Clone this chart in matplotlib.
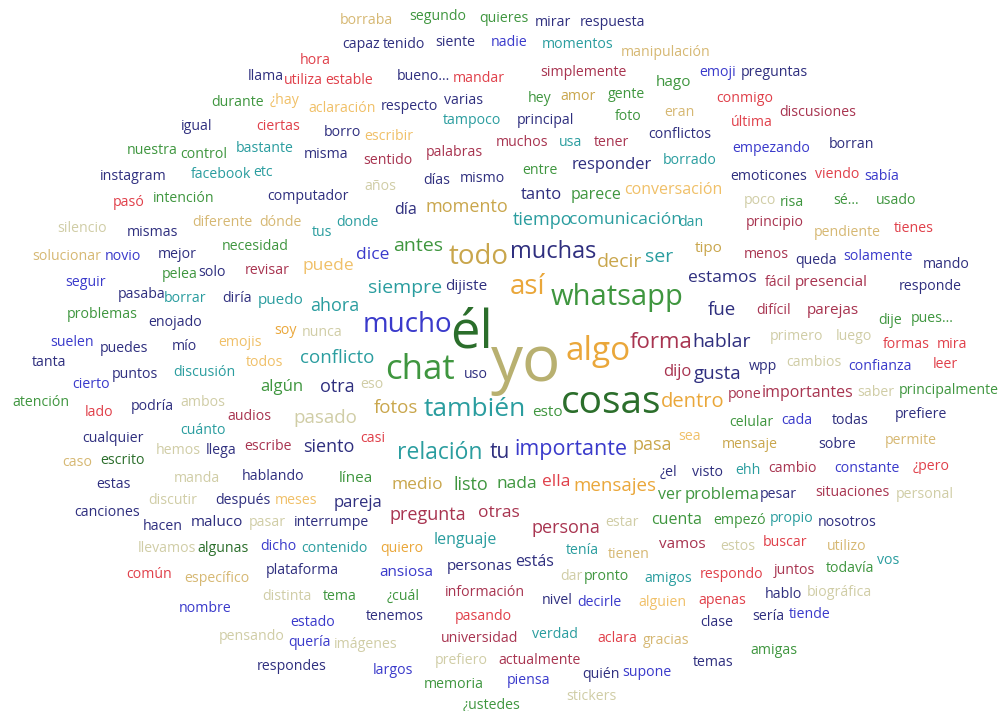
import matplotlib
matplotlib.use("Agg")
import matplotlib.pyplot as plt

# word cloud data: words and their size weight (points)
WORDS = [
    "yo", "él", "cosas", "chat", "algo", "whatsapp", "así", "todo", "mucho", "también",
    "muchas", "relación", "importante", "forma", "tu", "dentro", "siempre", "antes", "decir", "ser",
    "conflicto", "fotos", "pasado", "mensajes", "fue", "gusta", "hablar", "momento", "tiempo", "ahora",
    "pregunta", "persona", "listo", "siento", "otra", "pasa", "comunicación", "estamos", "dice", "puede",
    "medio", "nada", "ella", "otras", "tanto", "algún", "responder", "dijo", "parece", "conversación",
    "problema", "pareja", "cuenta", "lenguaje", "estás", "ver", "día", "importantes", "hago", "tipo",
    "dijiste", "puedo", "presencial", "parejas", "esto", "línea", "maluco", "vamos", "ansiosa", "personas",
]
FREQ = [
    46, 38, 28, 25, 24, 21, 20, 20, 20, 19,
    17, 16.5, 15.5, 16, 15, 14.5, 14, 14, 14, 14,
    13.5, 13.5, 13.5, 13.5, 13.5, 13.5, 14, 13, 13, 13,
    13, 13, 13, 13, 13, 13, 12.5, 12.5, 12.5, 12.5,
    12.5, 12.5, 12.5, 12.5, 12, 12, 12, 12, 11.5, 11.5,
    12, 12, 11.5, 11.5, 11.5, 11.5, 11.5, 11.5, 11, 11,
    11, 11, 11, 11, 11, 11, 11, 11, 11, 11,
]
# remaining words of the cloud share a small weight
SMALL_WORDS = [
    "borraba", "segundo", "quieres", "mirar", "respuesta", "capaz", "tenido", "siente", "nadie",
    "momentos", "manipulación", "hora", "llama", "utiliza", "estable", "bueno...", "mandar",
    "simplemente", "emoji", "preguntas", "durante", "¿hay", "aclaración", "respecto", "varias",
    "hey", "amor", "gente", "conmigo", "eran", "discusiones", "igual", "ciertas", "tampoco",
    "principal", "foto", "última", "nuestra", "control", "bastante", "borro", "escribir", "misma",
    "sentido", "palabras", "muchos", "usa", "tener", "conflictos", "empezando", "borran",
    "instagram", "facebook", "etc", "computador", "años", "días", "mismo", "entre", "borrado",
    "emoticones", "viendo", "sabía", "pasó", "intención", "poco", "risa", "sé...", "usado",
    "silencio", "mismas", "diferente", "dónde", "tus", "donde", "dan", "principio", "pendiente",
    "tienes", "necesidad", "menos", "solucionar", "novio", "mejor", "revisar", "pelea", "solo",
    "queda", "solamente", "mando", "seguir", "fácil", "responde", "pasaba", "borrar", "diría",
    "difícil", "problemas", "enojado", "dije", "pues...", "soy", "nunca", "primero", "luego",
    "suelen", "emojis", "formas", "mira", "puedes", "mío", "tanta", "todos", "cambios",
    "confianza", "leer", "wpp", "uso", "puntos", "discusión", "cierto", "eso", "saber",
    "principalmente", "pone", "atención", "podría", "ambos", "lado", "audios", "celular", "cada",
    "todas", "prefiere", "cualquier", "cuánto", "casi", "sea", "mensaje", "sobre", "permite",
    "escribe", "hemos", "llega", "caso", "escrito", "¿el", "visto", "ehh", "cambio", "constante",
    "¿pero", "hablando", "manda", "estas", "pesar", "situaciones", "personal", "discutir",
    "después", "meses", "canciones", "hacen", "pasar", "interrumpe", "estar", "empezó", "propio",
    "nosotros", "llevamos", "algunas", "dicho", "contenido", "quiero", "tenía", "tienen", "estos",
    "buscar", "utilizo", "común", "específico", "plataforma", "dar", "pronto", "amigos",
    "respondo", "juntos", "todavía", "vos", "información", "distinta", "tema", "¿cuál", "nivel",
    "decirle", "alguien", "apenas", "hablo", "biográfica", "nombre", "estado", "tenemos",
    "pasando", "clase", "sería", "tiende", "pensando", "quería", "imágenes", "universidad",
    "verdad", "aclara", "gracias", "amigas", "respondes", "largos", "prefiero", "actualmente",
    "temas", "memoria", "piensa", "quién", "supone", "stickers", "¿ustedes",
]
SMALL_FREQ = 10.2

PALETTE = {
    "N": "#2f2f7f", "B": "#3a3acb", "G": "#3f963f", "D": "#2b6e2b", "R": "#e0404a",
    "M": "#a83450", "O": "#eaa73a", "Y": "#c9a64c", "T": "#2a9d9f", "K": "#d0cda6",
    "W": "#d6b873", "L": "#f0c068", "V": "#b8b070",
}

# layout of the cloud: pixel centre (x, y from top) and colour key
LAYOUT = {
    "borraba": (366, 21, "W"), "segundo": (438, 17, "G"), "quieres": (504, 18, "G"),
    "mirar": (553, 22, "N"), "respuesta": (613, 22, "N"), "capaz": (361, 45, "N"),
    "tenido": (404, 45, "N"), "siente": (455, 43, "N"), "nadie": (509, 43, "B"),
    "momentos": (578, 45, "T"), "manipulación": (666, 52, "W"), "hora": (315, 61, "R"),
    "llama": (266, 76, "N"), "utiliza": (303, 80, "R"), "estable": (349, 80, "R"),
    "bueno...": (423, 77, "N"), "mandar": (479, 79, "R"), "simplemente": (583, 72, "M"),
    "hago": (674, 82, "G"), "emoji": (718, 73, "B"), "preguntas": (774, 72, "N"),
    "durante": (238, 103, "G"), "¿hay": (285, 101, "L"), "aclaración": (342, 108, "L"),
    "respecto": (409, 106, "N"), "varias": (464, 100, "N"), "hey": (540, 98, "G"),
    "amor": (578, 97, "Y"), "gente": (626, 95, "G"), "conmigo": (745, 98, "R"),
    "eran": (679, 112, "W"), "discusiones": (818, 112, "M"), "igual": (197, 127, "N"),
    "ciertas": (278, 127, "R"), "tampoco": (472, 121, "T"), "principal": (545, 120, "N"),
    "foto": (628, 117, "G"), "última": (752, 122, "R"), "nuestra": (152, 150, "G"),
    "control": (204, 155, "G"), "bastante": (265, 148, "T"), "borro": (342, 133, "N"),
    "escribir": (389, 137, "L"), "misma": (326, 155, "N"), "sentido": (388, 160, "M"),
    "palabras": (454, 152, "M"), "muchos": (522, 143, "M"), "usa": (571, 143, "T"),
    "tener": (612, 143, "M"), "conflictos": (680, 135, "N"), "empezando": (771, 149, "B"),
    "borran": (852, 144, "N"), "instagram": (133, 177, "N"), "facebook": (221, 174, "T"),
    "etc": (263, 173, "T"), "computador": (308, 196, "N"), "años": (380, 186, "K"),
    "días": (437, 180, "N"), "mismo": (482, 178, "N"), "entre": (540, 170, "G"),
    "responder": (612, 165, "N"), "borrado": (690, 160, "T"), "emoticones": (769, 176, "N"),
    "viendo": (837, 175, "R"), "sabía": (882, 177, "B"), "pasó": (129, 203, "R"),
    "intención": (184, 198, "G"), "tanto": (541, 195, "N"), "parece": (596, 195, "G"),
    "conversación": (673, 190, "L"), "poco": (760, 200, "K"), "risa": (792, 202, "G"),
    "sé...": (846, 200, "G"), "usado": (896, 200, "G"), "día": (406, 210, "N"),
    "momento": (467, 207, "Y"), "silencio": (82, 228, "K"), "mismas": (153, 232, "N"),
    "diferente": (222, 223, "W"), "dónde": (280, 222, "W"), "tus": (322, 232, "T"),
    "donde": (357, 222, "T"), "tiempo": (543, 220, "T"), "comunicación": (625, 220, "T"),
    "dan": (691, 223, "T"), "principio": (775, 223, "M"), "pendiente": (847, 233, "W"),
    "tienes": (914, 228, "R"), "necesidad": (255, 246, "G"), "antes": (418, 246, "G"),
    "todo": (479, 257, "Y"), "muchas": (553, 252, "N"), "decir": (620, 262, "Y"),
    "ser": (659, 257, "T"), "tipo": (709, 248, "Y"), "menos": (766, 255, "M"),
    "solucionar": (67, 257, "W"), "novio": (123, 256, "B"), "mejor": (177, 255, "N"),
    "dice": (373, 255, "B"), "puede": (328, 266, "L"), "revisar": (267, 271, "M"),
    "pelea": (180, 275, "G"), "solo": (212, 272, "N"), "queda": (816, 261, "N"),
    "solamente": (878, 256, "B"), "mando": (946, 265, "N"), "seguir": (86, 283, "B"),
    "siempre": (405, 288, "T"), "dijiste": (466, 286, "N"), "así": (528, 287, "O"),
    "whatsapp": (617, 297, "G"), "estamos": (722, 278, "N"), "fácil": (778, 282, "M"),
    "presencial": (831, 282, "M"), "responde": (930, 287, "N"), "pasaba": (142, 295, "N"),
    "borrar": (185, 299, "T"), "diría": (237, 298, "N"), "puedo": (281, 300, "T"),
    "ahora": (335, 306, "T"), "difícil": (774, 310, "M"), "parejas": (833, 310, "M"),
    "fue": (722, 310, "N"), "problemas": (102, 315, "G"), "enojado": (175, 322, "N"),
    "dije": (890, 320, "G"), "pues...": (932, 318, "G"), "mucho": (407, 325, "B"),
    "él": (472, 334, "D"), "soy": (286, 330, "O"), "nunca": (322, 332, "K"),
    "primero": (797, 337, "K"), "luego": (854, 337, "K"), "suelen": (72, 342, "B"),
    "emojis": (240, 342, "L"), "algo": (598, 352, "O"), "forma": (661, 342, "M"),
    "hablar": (722, 342, "N"), "formas": (906, 345, "R"), "mira": (952, 345, "R"),
    "puedes": (124, 348, "N"), "mío": (184, 347, "N"), "conflicto": (337, 358, "T"),
    "tanta": (49, 363, "N"), "todos": (265, 363, "L"), "cambios": (814, 362, "K"),
    "confianza": (880, 367, "B"), "leer": (945, 365, "R"), "wpp": (763, 367, "N"),
    "chat": (420, 370, "G"), "yo": (526, 364, "V"), "dijo": (677, 372, "M"),
    "gusta": (718, 374, "N"), "uso": (476, 375, "N"), "puntos": (135, 375, "N"),
    "discusión": (204, 372, "T"), "cierto": (91, 385, "B"), "algún": (282, 387, "G"),
    "otra": (337, 387, "N"), "eso": (372, 385, "K"), "importantes": (808, 393, "M"),
    "saber": (876, 393, "K"), "principalmente": (949, 391, "G"), "pone": (745, 395, "M"),
    "dentro": (693, 402, "O"), "cosas": (611, 403, "D"), "atención": (41, 402, "G"),
    "podría": (152, 406, "N"), "ambos": (203, 402, "K"), "fotos": (396, 408, "Y"),
    "también": (475, 410, "T"), "esto": (547, 413, "G"), "lado": (99, 413, "R"),
    "audios": (249, 417, "M"), "pasado": (325, 418, "K"), "celular": (751, 422, "G"),
    "cada": (797, 420, "B"), "todas": (850, 420, "N"), "prefiere": (921, 415, "N"),
    "cualquier": (113, 438, "N"), "cuánto": (203, 430, "T"), "casi": (373, 438, "R"),
    "sea": (690, 436, "L"), "pasa": (652, 445, "Y"), "mensaje": (750, 445, "Y"),
    "sobre": (837, 445, "N"), "permite": (911, 440, "W"), "escribe": (268, 447, "M"),
    "siento": (329, 447, "N"), "hemos": (178, 450, "K"), "llega": (221, 450, "N"),
    "relación": (440, 453, "T"), "tu": (500, 452, "N"), "importante": (571, 450, "B"),
    "caso": (77, 462, "W"), "escrito": (123, 460, "D"), "¿el": (668, 472, "N"),
    "visto": (708, 472, "N"), "ehh": (748, 470, "T"), "cambio": (793, 468, "M"),
    "constante": (867, 468, "B"), "¿pero": (931, 467, "R"), "hablando": (273, 476, "N"),
    "manda": (197, 478, "K"), "línea": (356, 478, "G"), "estas": (114, 485, "N"),
    "medio": (417, 485, "Y"), "listo": (471, 485, "G"), "nada": (517, 484, "G"),
    "ella": (556, 482, "R"), "mensajes": (615, 486, "O"), "ver": (670, 495, "G"),
    "problema": (722, 495, "G"), "pesar": (778, 494, "N"), "situaciones": (852, 492, "M"),
    "personal": (925, 494, "K"), "discutir": (173, 501, "K"), "después": (243, 500, "N"),
    "meses": (296, 500, "L"), "pareja": (358, 503, "N"), "canciones": (107, 512, "N"),
    "pregunta": (428, 515, "M"), "otras": (499, 513, "M"), "hacen": (163, 527, "N"),
    "maluco": (217, 522, "N"), "pasar": (267, 522, "K"), "interrumpe": (332, 522, "N"),
    "persona": (566, 528, "M"), "estar": (622, 523, "K"), "cuenta": (677, 520, "G"),
    "empezó": (740, 520, "G"), "propio": (792, 518, "T"), "nosotros": (847, 522, "N"),
    "llevamos": (167, 548, "K"), "algunas": (223, 548, "D"), "dicho": (278, 547, "B"),
    "contenido": (334, 548, "T"), "quiero": (402, 548, "O"), "lenguaje": (465, 540, "T"),
    "tenía": (582, 550, "T"), "tienen": (629, 555, "W"), "vamos": (682, 545, "M"),
    "estos": (738, 547, "K"), "buscar": (785, 542, "R"), "utilizo": (847, 547, "W"),
    "común": (149, 575, "R"), "específico": (217, 578, "W"), "plataforma": (302, 570, "N"),
    "ansiosa": (406, 572, "B"), "personas": (480, 567, "N"), "estás": (535, 562, "N"),
    "dar": (571, 577, "K"), "pronto": (606, 577, "G"), "amigos": (668, 578, "T"),
    "respondo": (732, 575, "R"), "juntos": (794, 570, "M"), "todavía": (850, 568, "G"),
    "vos": (888, 560, "T"), "información": (485, 593, "M"), "distinta": (287, 597, "K"),
    "tema": (340, 596, "G"), "¿cuál": (403, 596, "G"), "nivel": (557, 600, "N"),
    "decirle": (599, 602, "B"), "alguien": (662, 602, "L"), "apenas": (722, 600, "R"),
    "hablo": (783, 595, "N"), "biográfica": (839, 592, "K"), "nombre": (205, 608, "B"),
    "estado": (313, 622, "B"), "tenemos": (395, 617, "N"), "pasando": (483, 617, "R"),
    "clase": (717, 623, "N"), "sería": (768, 617, "N"), "tiende": (810, 615, "B"),
    "pensando": (252, 637, "K"), "quería": (310, 643, "B"), "imágenes": (366, 645, "K"),
    "universidad": (480, 638, "M"), "verdad": (555, 635, "T"), "aclara": (617, 638, "R"),
    "gracias": (666, 640, "W"), "amigas": (774, 650, "G"), "respondes": (292, 667, "N"),
    "largos": (393, 670, "B"), "prefiero": (461, 660, "K"), "actualmente": (540, 660, "M"),
    "temas": (713, 663, "N"), "memoria": (454, 685, "G"), "piensa": (529, 680, "B"),
    "quién": (601, 675, "N"), "supone": (647, 673, "B"), "stickers": (591, 697, "K"),
    "¿ustedes": (492, 705, "G"),
}

W, H = 1003, 711
fig = plt.figure(figsize=(W / 100, H / 100), dpi=100)
ax = fig.add_axes([0, 0, 1, 1])
ax.set_xlim(0, W)
ax.set_ylim(H, 0)
ax.axis("off")

all_words = WORDS + SMALL_WORDS
all_freq = FREQ + [SMALL_FREQ] * len(SMALL_WORDS)
for word, size in zip(all_words, all_freq):
    x, y, c = LAYOUT[word]
    ax.text(x, y, word, ha="center", va="center", fontsize=size,
            color=PALETTE[c], family=["Open Sans", "DejaVu Sans"])

fig.savefig("out.png", dpi=100, facecolor="white")
